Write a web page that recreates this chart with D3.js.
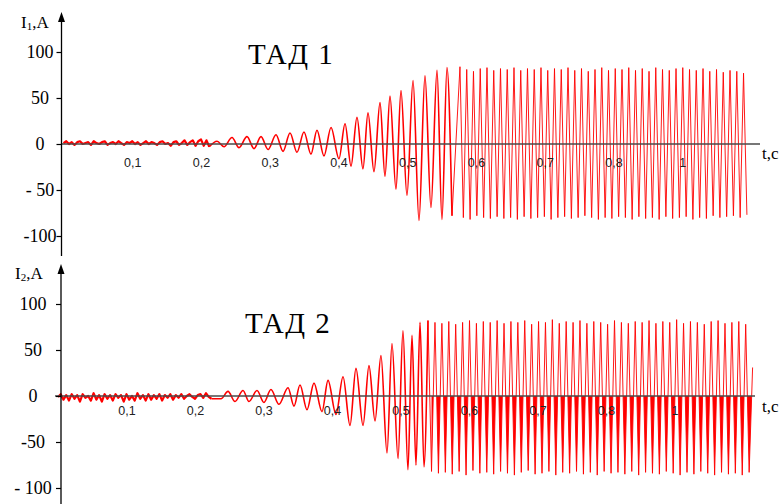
<!DOCTYPE html>
<html><head><meta charset="utf-8">
<script src="https://cdn.jsdelivr.net/npm/d3@7"></script>
<style>body{margin:0;background:#fff}</style>
</head><body>
<svg id="c" width="780" height="504"></svg>
<script>
// ---- axis data ----
const tickValues = [0.1,0.2,0.3,0.4,0.5,0.6,0.7,0.8,0.9];
const tickLabels = ["0,1","0,2","0,3","0,4","0,5","0,6","0,7","0,8","1"];
const yTickValues = [100,50,0,-50,-100];
const yTickLabels1 = ["100","50","0","- 50","-100"];
const yTickLabels2 = ["100","50","0","-50","- 100"];
const titles = ["ТАД 1","ТАД 2"];
const yNames = ["1","2"];

// ---- I1 (ТАД 1) ----
const noiseStep = 0.004; // s, sampling of the initial noise
const i1Noise = [1,3,0,2,-1,2,3,0,1,2,-1,3,1,0,2,3,-1,1,2,0,3,1,-1,2,1,3,0,2,-1,1,3,0,2,1,-1,2,3,0,1,-2,2,3,-1,1,4,-1,2,4,-2,3,5,-2,4,-3];
const i1GrowthT = [0.2233,0.2335,0.2451,0.2553,0.2669,0.2771,0.2873,0.2975,0.3091,0.3193,0.3295,0.3396,0.3498,0.3600,0.3687,0.3789,0.3891,0.4007,0.4095,0.4182,0.4269,0.4356,0.4429,0.4516,0.4604,0.4676,0.4749,0.4836,0.4909,0.4996,0.5084,0.5171,0.5258,0.5345,0.5433,0.5505,0.5578,0.5651];
const i1GrowthV = [3,-3,7,-4,8,-5,8,-6,10,-8,12,-9,13,-11,15,-13,18,-16,22,-24,29,-27,34,-30,45,-35,52,-49,58,-56,69,-83,74,-69,80,-82,83,-78];
const i1SteadyStart = 0.5767, i1SteadyStep = 0.00491;
const i1Steady = [84,-80,81,-82,79,-78,82,-80,83,-81,
 80,-79,82,-81,81,-80,83,-82,80,-79,
 82,-81,81,-80,83,-79,80,-82,82,-80,
 81,-79,83,-81,80,-80,82,-78,79,-80,
 81,-82,83,-80,80,-81,82,-79,81,-80,
 83,-82,80,-79,82,-81,79,-80,83,-82,
 81,-79,80,-81,82,-80,83,-79,81,-82,
 80,-80,82,-81,79,-78,81,-80,78,-79,
 80,-78,79,-80,77,-77];

// ---- I2 (ТАД 2) ----
const i2Noise = [-1,2,-4,1,-5,2,-3,1,-6,2,-2,0,-5,3,-4,1,-6,2,-3,1,-5,2,-2,1,-6,2,-4,0,-5,3,-3,1,-5,2,-4,1,-3,2,-5,1,-2,2,-4,1,-2,2,-3,0,2,-1,-3,1,2,-2,3,-1,-3];
const i2GrowthT = [0.2380,0.2482,0.2584,0.2701,0.2788,0.2905,0.3007,0.3109,0.3226,0.3358,0.3445,0.3533,0.3635,0.3737,0.3854,0.3942,0.4058,0.4161,0.4263,0.4350,0.4453,0.4540,0.4628,0.4715,0.4803,0.4876,0.4964,0.5036,0.5109,0.5168,0.5226,0.5285,0.5343,0.5401];
const i2GrowthV = [-3,5,-6,6,-6,6,-7,7,-9,9,-11,12,-15,14,-17,17,-20,21,-32,30,-32,33,-27,44,-62,57,-68,71,-80,66,-75,80,-77,82];
const i2SteadyStart = 0.5453, i2SteadyStep = 0.00504;
const i2Steady = [-82,80,-84,79,-83,81,-85,78,-82,80,
 -86,82,-81,79,-84,81,-83,80,-85,82,
 -82,79,-84,81,-86,80,-83,82,-81,78,
 -85,81,-84,80,-82,83,-86,79,-83,81,
 -84,80,-82,82,-85,79,-83,81,-86,80,
 -82,78,-84,82,-83,80,-85,79,-82,81,
 -86,80,-83,82,-84,79,-85,81,-82,80,
 -84,83,-86,79,-83,81,-85,80,-82,78,
 -84,81,-86,82,-83,79,-85,80,-84,81,
 -86,78,-83,31];

function build(noise, gT, gV, sStart, sStep, steady){
  const nz = noise.map((v,i)=>({t:i*noiseStep, v}));
  const gr = gT.map((t,i)=>({t, v:gV[i]}));
  const st = steady.map((v,i)=>({t:sStart+i*sStep, v}));
  return {noise: nz, growth: [nz[nz.length-1]].concat(gr), steady: [gr[gr.length-1]].concat(st)};
}
const series = [
  build(i1Noise,i1GrowthT,i1GrowthV,i1SteadyStart,i1SteadyStep,i1Steady),
  build(i2Noise,i2GrowthT,i2GrowthV,i2SteadyStart,i2SteadyStep,i2Steady)
];

const panels = [
  {xr:[63.5,751], yr:[236,52], axisX:61.5, axisTop:12, axisBot:256, xFrom:62, xTo:760,
   labCx:40, xLabDy:22.5, tcY:159, nameX:21, nameY:28, titleX:248, titleY:64, yLabels:yTickLabels1, fill:false},
  {xr:[58,743], yr:[488,304], axisX:61, axisTop:264, axisBot:504, xFrom:55, xTo:755,
   labCx:33, xLabDy:18.5, tcY:412, nameX:15, nameY:279, titleX:245, titleY:333, yLabels:yTickLabels2, fill:true}
];

const svg = d3.select("#c");
const serif = "'Liberation Serif','Times New Roman',serif";
const sans = "'Liberation Sans',Arial,sans-serif";

panels.forEach((p,pi)=>{
  const x = d3.scaleLinear().domain([0,1]).range(p.xr);
  const y = d3.scaleLinear().domain([-100,100]).range(p.yr);
  const g = svg.append("g");
  const data = series[pi];

  if(p.fill){
    const clipId = "clip"+pi;
    svg.append("defs").append("clipPath").attr("id",clipId)
      .append("rect").attr("x",0).attr("y",y(0)).attr("width",780).attr("height",200);
    const area = d3.area().x(d=>x(d.t)).y0(y(0)).y1(d=>y(d.v));
    g.append("path").datum(data.steady.slice(1)).attr("d",area).attr("fill","#ff0000")
      .attr("clip-path","url(#"+clipId+")");
  }
  const lineLin = d3.line().x(d=>x(d.t)).y(d=>y(d.v));
  const lineSmooth = d3.line().x(d=>x(d.t)).y(d=>y(d.v)).curve(d3.curveMonotoneX);
  g.append("path").datum(data.noise).attr("d",lineLin).attr("fill","none")
    .attr("stroke","#ff0000").attr("stroke-width",2.2).attr("stroke-linejoin","round");
  g.append("path").datum(data.growth).attr("d",lineSmooth).attr("fill","none")
    .attr("stroke","#ff0000").attr("stroke-width",1.6);
  g.append("path").datum(data.steady).attr("d",lineLin).attr("fill","none")
    .attr("stroke","#ff0000").attr("stroke-width",0.9);

  // x axis line
  const y0 = y(0);
  g.append("line").attr("x1",p.xFrom).attr("x2",p.xTo).attr("y1",y0).attr("y2",y0)
    .attr("stroke","#4a4a4a").attr("stroke-width",1.6);
  const xa = d3.axisBottom(x).tickValues(tickValues).tickFormat((d,i)=>tickLabels[i]).tickSize(0);
  const xg = g.append("g").attr("transform",`translate(0,${y0})`).call(xa);
  xg.select(".domain").remove();
  xg.selectAll("text").attr("y",p.xLabDy).attr("dy",0).attr("font-family",sans)
    .attr("font-size",12.5).attr("fill","#222");

  // y axis
  g.append("line").attr("x1",p.axisX).attr("x2",p.axisX).attr("y1",p.axisTop+4).attr("y2",p.axisBot)
    .attr("stroke","#000").attr("stroke-width",1.3);
  g.append("path").attr("d",`M${p.axisX-3.5},${p.axisTop+10}L${p.axisX},${p.axisTop}L${p.axisX+3.5},${p.axisTop+10}Z`)
    .attr("fill","#000");
  const ya = d3.axisLeft(y).tickValues(yTickValues).tickFormat((d,i)=>p.yLabels[i]).tickSize(5);
  const yg = g.append("g").attr("transform",`translate(${p.axisX},0)`).call(ya);
  yg.select(".domain").remove();
  yg.selectAll("line").attr("stroke","#000").attr("stroke-width",1.2);
  yg.selectAll("text").attr("text-anchor","middle").attr("x",p.labCx-p.axisX)
    .attr("font-family",serif).attr("font-size",18).attr("fill","#000");

  // axis names
  const nm = g.append("text").attr("x",p.nameX).attr("y",p.nameY)
    .attr("font-family",serif).attr("font-size",17).attr("fill","#000");
  nm.append("tspan").text("I");
  nm.append("tspan").attr("font-size",11).attr("dy",2).text(yNames[pi]);
  nm.append("tspan").attr("dy",-2).text(",A");
  g.append("text").attr("x",762).attr("y",p.tcY).attr("font-family",serif)
    .attr("font-size",17).attr("fill","#000").text("t,c");

  // title
  g.append("text").attr("x",p.titleX).attr("y",p.titleY).attr("font-family",serif)
    .attr("font-size",29).attr("letter-spacing",1.5).attr("fill","#000").text(titles[pi]);
});
</script>
</body></html>
